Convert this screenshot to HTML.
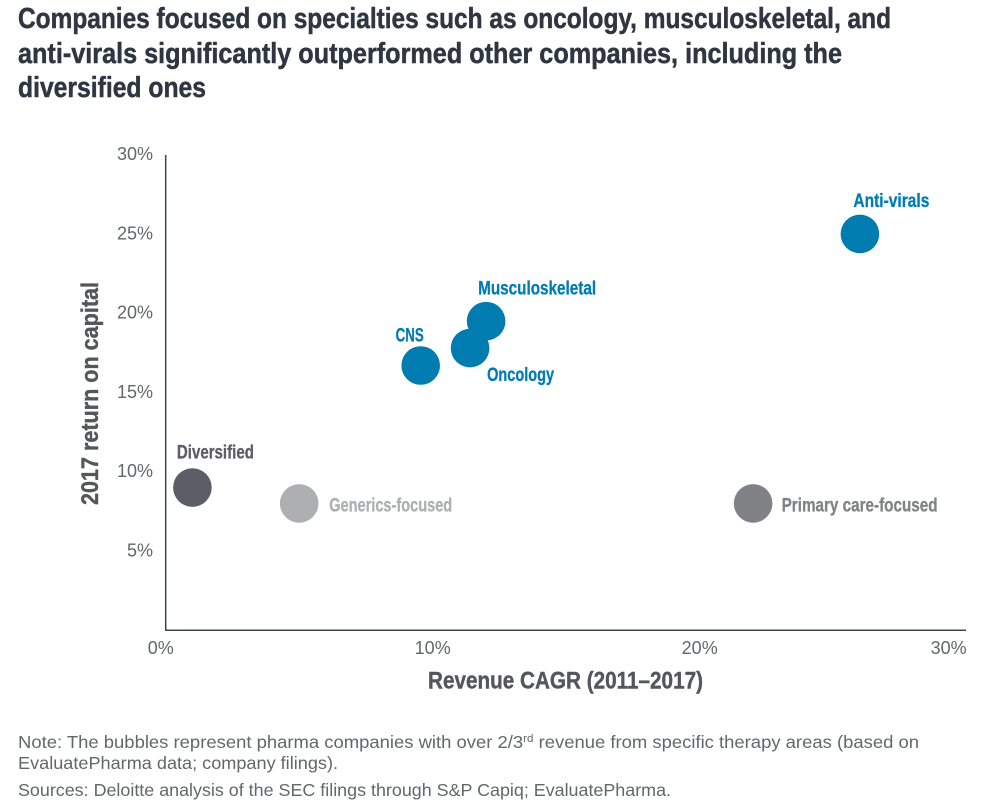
<!DOCTYPE html>
<html lang="en">
<head>
<meta charset="utf-8">
<title>Revenue CAGR vs return on capital</title>
<style>
html,body{margin:0;padding:0;background:#fff;width:989px;height:812px;overflow:hidden}
svg{display:block;font-family:"Liberation Sans",sans-serif}
.title{font-size:29px;font-weight:700;fill:#2f3642;stroke:#2f3642;stroke-width:.5px}
.tick{font-size:18px;fill:#63666a}
.axis-title{font-size:24px;font-weight:700;fill:#53565a;stroke:#53565a;stroke-width:.4px}
.note{font-size:17.5px;fill:#63666a}
.bubble-label{font-size:19px;font-weight:700;stroke-width:.3px}
</style>
</head>
<body>
<svg id="chart" xmlns="http://www.w3.org/2000/svg" width="989" height="812" viewBox="0 0 989 812">
  <g>
    <text class="title" x="18" y="28" textLength="873" lengthAdjust="spacingAndGlyphs">Companies focused on specialties such as oncology, musculoskeletal, and</text>
    <text class="title" x="18" y="63" textLength="824" lengthAdjust="spacingAndGlyphs">anti-virals significantly outperformed other companies, including the</text>
    <text class="title" x="18" y="97" textLength="188" lengthAdjust="spacingAndGlyphs">diversified ones</text>
  </g>
  <line x1="165.7" y1="155" x2="165.7" y2="631" stroke="#3f444c" stroke-width="1.5"/>
  <line x1="165" y1="630.2" x2="966" y2="630.2" stroke="#3f444c" stroke-width="1.5"/>
  <g id="y-ticks"></g>
  <g id="x-ticks"></g>
  <text class="axis-title" x="428" y="688.5" textLength="275" lengthAdjust="spacingAndGlyphs">Revenue CAGR (2011–2017)</text>
  <text class="axis-title" transform="translate(98,505) rotate(-90)" x="0" y="0" textLength="223" lengthAdjust="spacingAndGlyphs">2017 return on capital</text>
  <g id="bubbles"></g>
  <g>
    <text class="note" x="18" y="748" textLength="901" lengthAdjust="spacingAndGlyphs">Note: The bubbles represent pharma companies with over 2/3<tspan font-size="11" dy="-6">rd</tspan><tspan dy="6"> revenue from specific therapy areas (based on</tspan></text>
    <text class="note" x="18" y="769" textLength="320" lengthAdjust="spacingAndGlyphs">EvaluatePharma data; company filings).</text>
    <text class="note" x="18" y="796" textLength="653" lengthAdjust="spacingAndGlyphs">Sources: Deloitte analysis of the SEC filings through S&amp;P Capiq; EvaluatePharma.</text>
  </g>
</svg>
<script>
var categories = ["Anti-virals", "Musculoskeletal", "CNS", "Oncology", "Diversified", "Generics-focused", "Primary care-focused"];
var revenueCagr = [26, 12, 9.55, 11.4, 1, 5, 22];
var returnOnCapital = [25, 19.5, 16.7, 17.8, 9, 8, 8];
var xTickValues = [0, 10, 20, 30];
var yTickValues = [5, 10, 15, 20, 25, 30];

var NS = "http://www.w3.org/2000/svg";
var xOrigin = 165.7, xPerUnit = 26.7;
var yOrigin = 630.2, yPerUnit = 15.85;
function xScale(v) { return xOrigin + v * xPerUnit; }
function yScale(v) { return yOrigin - v * yPerUnit; }

var bubbleRadius = 19.3;
var styleByCategory = {
  "Anti-virals": { fill: "#007cb0", text: "#007cb0", dx: -6.5, dy: -27, w: 76 },
  "Musculoskeletal": { fill: "#007cb0", text: "#007cb0", dx: -8, dy: -26.5, w: 118 },
  "CNS": { fill: "#007cb0", text: "#007cb0", dx: -25, dy: -24, w: 28 },
  "Oncology": { fill: "#007cb0", text: "#007cb0", dx: 17, dy: 33, w: 67 },
  "Diversified": { fill: "#5b5e66", text: "#5b5e66", dx: -15.5, dy: -29, w: 77 },
  "Generics-focused": { fill: "#adafb0", text: "#adafb0", dx: 30, dy: 8, w: 123 },
  "Primary care-focused": { fill: "#808285", text: "#808285", dx: 28.5, dy: 8, w: 156 }
};

function svgEl(tag, attrs, parent) {
  var el = document.createElementNS(NS, tag);
  for (var k in attrs) { el.setAttribute(k, attrs[k]); }
  parent.appendChild(el);
  return el;
}

var yGroup = document.getElementById("y-ticks");
yTickValues.forEach(function (v) {
  var t = svgEl("text", { "class": "tick", x: 153, y: yScale(v) + 5.5, "text-anchor": "end" }, yGroup);
  t.textContent = v + "%";
  
  
});

var xGroup = document.getElementById("x-ticks");
xTickValues.forEach(function (v, i) {
  var isFirst = i === 0, isLast = i === xTickValues.length - 1;
  var px = xScale(v) + (isFirst ? -5 : 0);
  var t = svgEl("text", { "class": "tick", x: px, y: 654, "text-anchor": isLast ? "end" : "middle" }, xGroup);
  t.textContent = v + "%";
  
  
});

var bubbleGroup = document.getElementById("bubbles");
categories.forEach(function (name, i) {
  var s = styleByCategory[name];
  var cx = xScale(revenueCagr[i]), cy = yScale(returnOnCapital[i]);
  var c = svgEl("circle", { cx: cx, cy: cy, r: bubbleRadius, fill: s.fill }, bubbleGroup);
  
  
  var t = svgEl("text", { "class": "bubble-label", x: cx + s.dx, y: cy + s.dy, fill: s.text, stroke: s.text, textLength: s.w, lengthAdjust: "spacingAndGlyphs" }, bubbleGroup);
  t.textContent = name;
  
  
});
</script>
</body>
</html>
